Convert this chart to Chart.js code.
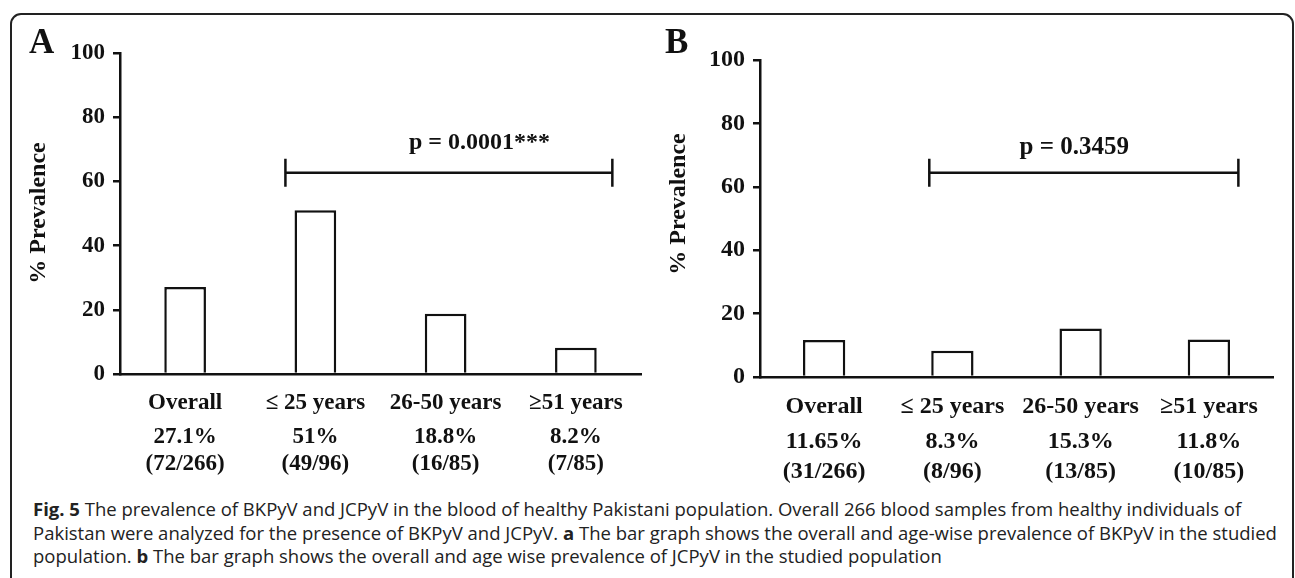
<!DOCTYPE html>
<html>
<head>
<meta charset="utf-8">
<script src="https://cdn.jsdelivr.net/npm/chart.js@4/dist/chart.umd.min.js"></script>
<style>
    body { margin: 0; background: #fff; width: 1295px; height: 578px; overflow: hidden; position: relative; }
    .frame { position: absolute; left: 10px; top: 13px; width: 1280px; height: 600px; border: 2px solid #222; border-radius: 11px; }
    canvas { position: absolute; top: 0; }
    #chartA { left: 0; }
    #chartB { left: 650px; }
    .panel { position: absolute; font-family: "Liberation Serif", "Times New Roman", serif; font-weight: bold; color: #111; }
    .caption { position: absolute; left: 33px; top: 497px; font-family: "Open Sans", sans-serif; font-size: 18.5px; line-height: 23.5px; color: #222; white-space: nowrap; }
</style>
</head>
<body>
<div class="frame"></div>
<canvas id="chartA" width="650" height="490"></canvas>
<canvas id="chartB" width="645" height="490"></canvas>
<div class="panel" style="left:29px; top:22px; font-size:35px;">A</div>
<div class="panel" style="left:665px; top:22px; font-size:35px;">B</div>
<div class="caption">
<b>Fig. 5</b> The prevalence of BKPyV and JCPyV in the blood of healthy Pakistani population. Overall 266 blood samples from healthy individuals of<br>
Pakistan were analyzed for the presence of BKPyV and JCPyV. <b>a</b> The bar graph shows the overall and age-wise prevalence of BKPyV in the studied<br>
population. <b>b</b> The bar graph shows the overall and age wise prevalence of JCPyV in the studied population
</div>
<script>
const categories = ['Overall', '\u2264 25 years', '26-50 years', '\u226551 years'];
const yTicks = [0, 20, 40, 60, 80, 100];

// panel A - BKPyV
const bkValues = [27.1, 51, 18.8, 8.2];
const bkPercent = ['27.1%', '51%', '18.8%', '8.2%'];
const bkCounts = ['(72/266)', '(49/96)', '(16/85)', '(7/85)'];
const bkPValue = 'p = 0.0001***';

// panel B - JCPyV
const jcValues = [11.65, 8.3, 15.3, 11.8];
const jcPercent = ['11.65%', '8.3%', '15.3%', '11.8%'];
const jcCounts = ['(31/266)', '(8/96)', '(13/85)', '(10/85)'];
const jcPValue = 'p = 0.3459';

const serif = '"Liberation Serif", "Times New Roman", serif';
const ink = '#111';

// draws the y title, the % / count rows and the p-value bracket
const extrasPlugin = {
    id: 'extras',
    afterDraw(chart) {
        const o = chart.options.plugins.extras;
        const ctx = chart.ctx;
        const x = chart.scales.x;
        const y = chart.scales.y;
        const area = chart.chartArea;
        ctx.save();
        ctx.fillStyle = ink;
        ctx.strokeStyle = ink;

        // y title
        ctx.save();
        ctx.translate(o.titleX, o.titleY);
        ctx.rotate(-Math.PI / 2);
        ctx.font = 'bold ' + o.titleSize + 'px ' + serif;
        ctx.textAlign = 'center';
        ctx.textBaseline = 'middle';
        ctx.fillText('% Prevalence', 0, 0);
        ctx.restore();

        // rows under the category labels
        ctx.font = 'bold ' + o.fontSize + 'px ' + serif;
        ctx.textAlign = 'center';
        ctx.textBaseline = 'middle';
        o.percent.forEach((t, i) => {
            const px = x.getPixelForValue(i);
            ctx.fillText(t, px, area.bottom + o.pctOffset);
            ctx.fillText(o.counts[i], px, area.bottom + o.cntOffset);
        });

        // bracket
        const bx1 = x.getPixelForValue(o.bracket[0]);
        const bx2 = x.getPixelForValue(o.bracket[1]);
        const by = y.getPixelForValue(o.bracket[2]);
        ctx.lineWidth = 2.5;
        ctx.beginPath();
        ctx.moveTo(bx1, by); ctx.lineTo(bx2, by);
        ctx.moveTo(bx1, by - 14); ctx.lineTo(bx1, by + 14);
        ctx.moveTo(bx2, by - 14); ctx.lineTo(bx2, by + 14);
        ctx.stroke();

        ctx.font = 'bold ' + o.pSize + 'px ' + serif;
        ctx.fillText(o.pText, x.getPixelForValue(o.pPos[0]), y.getPixelForValue(o.pPos[1]));
        ctx.restore();
    }
};

function makeChart(id, values, s) {
    return new Chart(document.getElementById(id), {
        type: 'bar',
        data: {
            labels: categories,
            datasets: [{
                data: values,
                backgroundColor: '#fff',
                borderColor: ink,
                borderWidth: 2.5,
                barPercentage: s.barPct,
                categoryPercentage: 1
            }]
        },
        options: {
            responsive: false,
            animation: false,
            devicePixelRatio: 1,
            layout: { padding: { top: s.top, right: s.right, left: 0, bottom: 0 } },
            plugins: {
                legend: { display: false },
                tooltip: { enabled: false },
                extras: s.extras
            },
            scales: {
                x: {
                    grid: { display: false, drawTicks: false },
                    border: { color: ink, width: 2.5 },
                    ticks: { color: ink, padding: s.xPad, font: { family: serif, weight: 'bold', size: s.fontSize } },
                    afterFit: sc => { sc.height = s.xHeight; }
                },
                y: {
                    min: 0,
                    max: 100,
                    afterBuildTicks: sc => { sc.ticks = yTicks.map(v => ({ value: v })); },
                    grid: { drawOnChartArea: false, tickLength: 7, color: ink, lineWidth: 2.5 },
                    border: { color: ink, width: 2.5 },
                    ticks: { color: ink, padding: 8, font: { family: serif, weight: 'bold', size: s.fontSize } },
                    afterFit: sc => { sc.width = s.yWidth; }
                }
            }
        },
        plugins: [extrasPlugin]
    });
}

makeChart('chartA', bkValues, {
    barPct: 0.32, top: 53, right: 9, xHeight: 116, yWidth: 120, xPad: 15, fontSize: 23,
    extras: {
        titleX: 39, titleY: 213, titleSize: 24, fontSize: 23,
        percent: bkPercent, counts: bkCounts, pctOffset: 63, cntOffset: 90,
        bracket: [0.77, 3.28, 62.7], pText: bkPValue, pPos: [2.26, 72], pSize: 24
    }
});

makeChart('chartB', jcValues, {
    barPct: 0.33, top: 60, right: 22, xHeight: 113, yWidth: 110, xPad: 15, fontSize: 24,
    extras: {
        titleX: 29, titleY: 204, titleSize: 24, fontSize: 24,
        percent: jcPercent, counts: jcCounts, pctOffset: 65, cntOffset: 95,
        bracket: [0.82, 3.23, 64.4], pText: jcPValue, pPos: [1.95, 72.5], pSize: 25
    }
});
</script>
</body>
</html>
